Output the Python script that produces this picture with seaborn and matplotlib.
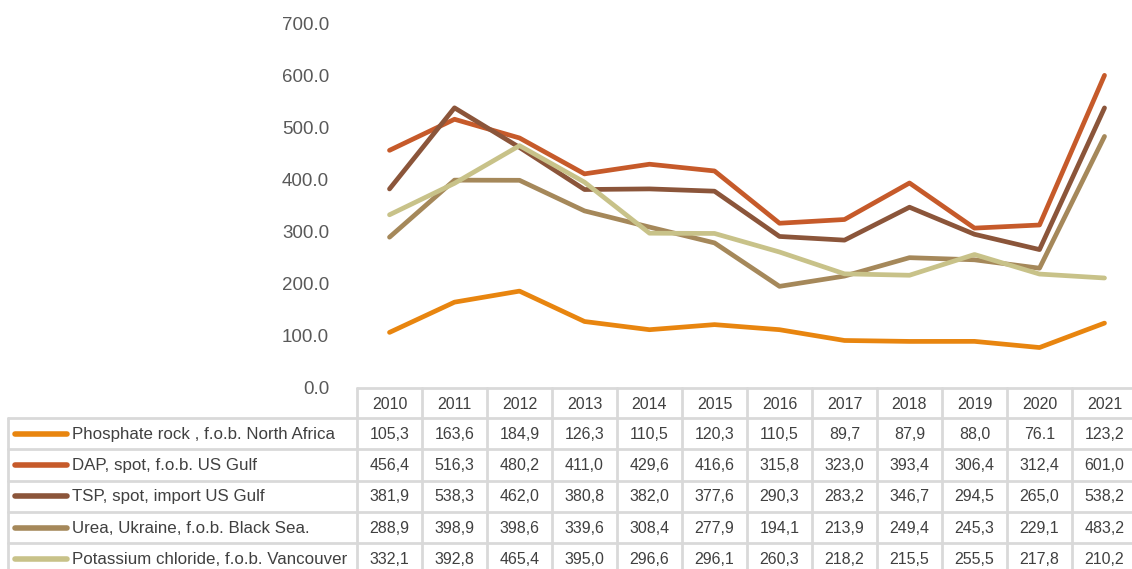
import pandas as pd
import matplotlib.pyplot as plt
import seaborn as sns
from matplotlib.lines import Line2D

# Data
years = [2010, 2011, 2012, 2013, 2014, 2015, 2016, 2017, 2018, 2019, 2020, 2021]
series_names = [
    "Phosphate rock , f.o.b. North Africa",
    "DAP, spot, f.o.b. US Gulf",
    "TSP, spot, import US Gulf",
    "Urea, Ukraine, f.o.b. Black Sea.",
    "Potassium chloride, f.o.b. Vancouver",
]
phosphate = [105.3, 163.6, 184.9, 126.3, 110.5, 120.3, 110.5, 89.7, 87.9, 88.0, 76.1, 123.2]
dap = [456.4, 516.3, 480.2, 411.0, 429.6, 416.6, 315.8, 323.0, 393.4, 306.4, 312.4, 601.0]
tsp = [381.9, 538.3, 462.0, 380.8, 382.0, 377.6, 290.3, 283.2, 346.7, 294.5, 265.0, 538.2]
urea = [288.9, 398.9, 398.6, 339.6, 308.4, 277.9, 194.1, 213.9, 249.4, 245.3, 229.1, 483.2]
potash = [332.1, 392.8, 465.4, 395.0, 296.6, 296.1, 260.3, 218.2, 215.5, 255.5, 217.8, 210.2]
# table texts as printed in the source (decimal commas, one odd "76.1")
table_text = [
    ["105,3", "163,6", "184,9", "126,3", "110,5", "120,3", "110,5", "89,7", "87,9", "88,0", "76.1", "123,2"],
    ["456,4", "516,3", "480,2", "411,0", "429,6", "416,6", "315,8", "323,0", "393,4", "306,4", "312,4", "601,0"],
    ["381,9", "538,3", "462,0", "380,8", "382,0", "377,6", "290,3", "283,2", "346,7", "294,5", "265,0", "538,2"],
    ["288,9", "398,9", "398,6", "339,6", "308,4", "277,9", "194,1", "213,9", "249,4", "245,3", "229,1", "483,2"],
    ["332,1", "392,8", "465,4", "395,0", "296,6", "296,1", "260,3", "218,2", "215,5", "255,5", "217,8", "210,2"],
]
colors = ["#E8850F", "#C65A2A", "#8B553A", "#A5885A", "#C8C289"]

values = [phosphate, dap, tsp, urea, potash]
rows = []
for name, vals in zip(series_names, values):
    for i, v in enumerate(vals):
        rows.append({"idx": i, "value": v, "series": name})
df = pd.DataFrame(rows)

sns.set_theme(style="white")
plt.rcParams["font.family"] = ["Liberation Sans", "DejaVu Sans"]

W, H = 1132, 569
fig = plt.figure(figsize=(W / 100, H / 100), dpi=100)

# pixel geometry
x0, col_w = 357, 65
y_zero, y_top = 387, 24
ax = fig.add_axes([x0 / W, 1 - y_zero / H, 12 * col_w / W, (y_zero - y_top) / H])
sns.lineplot(data=df, x="idx", y="value", hue="series", palette=colors,
             linewidth=3.4, ax=ax, legend=False, solid_capstyle="round")
ax.set_xlim(-0.5, 11.5)
ax.set_ylim(0, 700)
ax.set_yticks(range(0, 701, 100))
ax.set_yticklabels([f"{v:.1f}" for v in range(0, 701, 100)], fontsize=13.5, color="#595959")
ax.set_xticks([])
ax.set_xlabel("")
ax.set_ylabel("")
ax.tick_params(axis="y", length=0, pad=20)
for s in ax.spines.values():
    s.set_visible(False)

# data table drawn in pixel coordinates
tab = fig.add_axes([0, 0, 1, 1])
tab.set_xlim(0, W)
tab.set_ylim(H, 0)
tab.axis("off")
grid_c = "#D9D9D9"
row_h = 31.3
hdr_top = 388
hdr_bot = 418
left = 8
text_c = "#404040"
n_cols = len(years)
right = x0 + n_cols * col_w

def hline(y, xa, xb):
    tab.add_line(Line2D([xa, xb], [y, y], color=grid_c, lw=2))

def vline(x, ya, yb):
    tab.add_line(Line2D([x, x], [ya, yb], color=grid_c, lw=2))

hline(hdr_top, x0, right)
for r in range(len(series_names) + 1):
    hline(hdr_bot + r * row_h, left, right)
vline(left, hdr_bot, H + 10)
for c in range(n_cols + 1):
    vline(x0 + c * col_w, hdr_top, H + 10)

for c, yr in enumerate(years):
    tab.text(x0 + (c + 0.5) * col_w, (hdr_top + hdr_bot) / 2 + 1, str(yr),
             ha="center", va="center", fontsize=11.5, color=text_c)

for r, name in enumerate(series_names):
    yc = hdr_bot + (r + 0.5) * row_h
    tab.add_line(Line2D([15, 67], [yc, yc], color=colors[r], lw=4, solid_capstyle="round"))
    tab.text(72, yc + 0.5, name, ha="left", va="center", fontsize=12.2, color=text_c)
    for c in range(n_cols):
        tab.text(x0 + (c + 0.5) * col_w, yc + 0.5, table_text[r][c],
                 ha="center", va="center", fontsize=11.5, color=text_c)

fig.savefig("out.png", dpi=100)
